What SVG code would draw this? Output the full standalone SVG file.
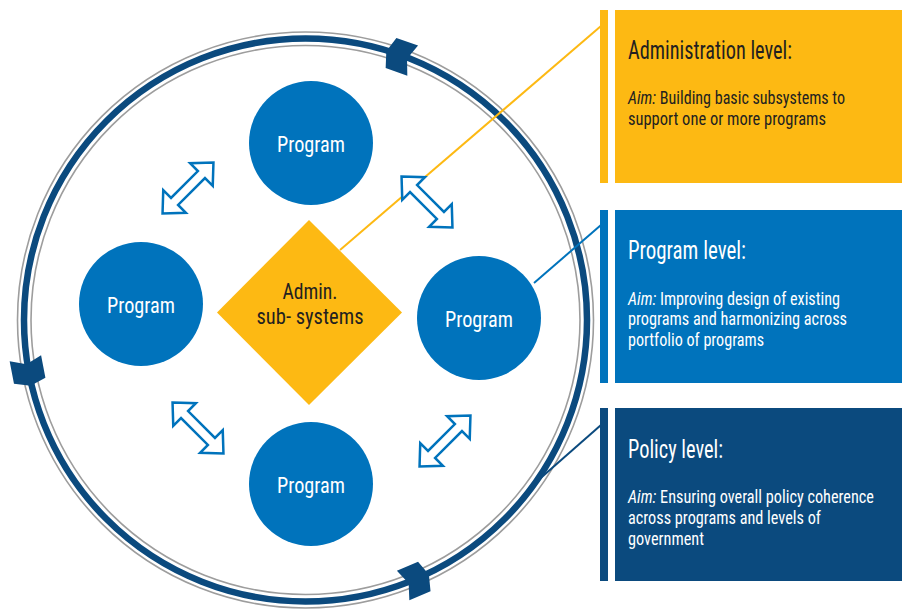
<svg xmlns="http://www.w3.org/2000/svg" xmlns:xlink="http://www.w3.org/1999/xlink" width="902" height="609" viewBox="0 0 902 609">
<style>
.gray{fill:none;stroke:#9d9d9d;stroke-width:1.6}
.band{fill:none;stroke:#0b4a7e;stroke-width:6.5}
.mk{fill:#0b4a7e}
.prog{fill:#0073bc}
.ptxt{font-family:"Liberation Sans Narrow","Roboto Condensed","DejaVu Sans Condensed","Liberation Sans",sans-serif;font-size:22px;fill:#ffffff;text-anchor:middle}
.dtxt{font-family:"Liberation Sans Narrow","Roboto Condensed","DejaVu Sans Condensed","Liberation Sans",sans-serif;font-size:22px;fill:#231f20;text-anchor:middle}
.ttl{font-family:"Liberation Sans Narrow","Roboto Condensed","DejaVu Sans Condensed","Liberation Sans",sans-serif;font-size:25px}
.body{font-family:"Liberation Sans Narrow","Roboto Condensed","DejaVu Sans Condensed","Liberation Sans",sans-serif;font-size:17.5px}
.aim{font-style:italic}
.dk{fill:#231f20}
.wt{fill:#ffffff}
.dbl{fill:#ffffff;stroke:#0073bc;stroke-width:2.5;stroke-linejoin:miter}
</style>
<defs>
<path id="darrow" d="M-36,0 L-19,-16 L-19,-5 L19,-5 L19,-16 L36,0 L19,16 L19,5 L-19,5 L-19,16 Z"/>
<path id="chev" d="M-14,-16 L9,-16 L14,0 L9,16 L-14,16 L-8,0 Z"/>
</defs>

<g id="ring">
<circle class="gray" cx="305.5" cy="320" r="288"/>
<circle class="gray" cx="305.5" cy="320" r="274.5"/>
<circle class="band" cx="305.5" cy="320" r="281.5"/>
<use xlink:href="#chev" class="mk" transform="translate(399.5,56) rotate(-160.4)"/>
<use xlink:href="#chev" class="mk" transform="translate(28,372) rotate(79.2)"/>
<use xlink:href="#chev" class="mk" transform="translate(416,580) rotate(-23)"/>
</g>

<g id="connectors">
<line x1="340" y1="250" x2="601" y2="26" stroke="#fdb913" stroke-width="2"/>
<line x1="534" y1="283" x2="601" y2="225" stroke="#0073bc" stroke-width="2"/>
<line x1="535" y1="483" x2="601" y2="425" stroke="#0b4a7e" stroke-width="2"/>
<use xlink:href="#darrow" class="dbl" transform="translate(188,188) rotate(-45)"/>
<use xlink:href="#darrow" class="dbl" transform="translate(427,202) rotate(45)"/>
<use xlink:href="#darrow" class="dbl" transform="translate(198,428) rotate(45)"/>
<use xlink:href="#darrow" class="dbl" transform="translate(445,441) rotate(-45)"/>
</g>

<g id="admin">
<polygon points="309,220 402,312.5 309,405 217,312.5" fill="#fdb913"/>
<text class="dtxt" x="310" y="299" textLength="55" lengthAdjust="spacingAndGlyphs">Admin.</text>
<text class="dtxt" x="310" y="324" textLength="107" lengthAdjust="spacingAndGlyphs">sub- systems</text>
</g>

<g id="program-top">
<circle class="prog" cx="311" cy="143" r="62"/>
<text class="ptxt" x="311" y="152" textLength="68" lengthAdjust="spacingAndGlyphs">Program</text>
</g>
<g id="program-left">
<circle class="prog" cx="141" cy="304" r="62"/>
<text class="ptxt" x="141" y="313" textLength="68" lengthAdjust="spacingAndGlyphs">Program</text>
</g>
<g id="program-right">
<circle class="prog" cx="479" cy="318" r="62"/>
<text class="ptxt" x="479" y="327" textLength="68" lengthAdjust="spacingAndGlyphs">Program</text>
</g>
<g id="program-bottom">
<circle class="prog" cx="311" cy="484" r="62"/>
<text class="ptxt" x="311" y="493" textLength="68" lengthAdjust="spacingAndGlyphs">Program</text>
</g>

<g id="panel-admin">
<rect x="600" y="10" width="8" height="173" fill="#fdb913"/>
<rect x="615" y="10" width="287" height="173" fill="#fdb913"/>
<text class="ttl dk" x="628" y="59" textLength="164" lengthAdjust="spacingAndGlyphs">Administration level:</text>
<text class="body dk" x="628" y="104" textLength="217" lengthAdjust="spacingAndGlyphs"><tspan class="aim">Aim:</tspan> Building basic subsystems to</text>
<text class="body dk" x="628" y="125" textLength="198" lengthAdjust="spacingAndGlyphs">support one or more programs</text>
</g>

<g id="panel-program">
<rect x="600" y="210" width="8" height="173" fill="#0073bc"/>
<rect x="615" y="210" width="287" height="173" fill="#0073bc"/>
<text class="ttl wt" x="628" y="259" textLength="118" lengthAdjust="spacingAndGlyphs">Program level:</text>
<text class="body wt" x="628" y="305" textLength="212" lengthAdjust="spacingAndGlyphs"><tspan class="aim">Aim:</tspan> Improving design of existing</text>
<text class="body wt" x="628" y="325" textLength="219" lengthAdjust="spacingAndGlyphs">programs and harmonizing across</text>
<text class="body wt" x="628" y="346" textLength="136" lengthAdjust="spacingAndGlyphs">portfolio of programs</text>
</g>

<g id="panel-policy">
<rect x="600" y="408" width="8" height="173" fill="#0b4a7e"/>
<rect x="615" y="408" width="287" height="173" fill="#0b4a7e"/>
<text class="ttl wt" x="628" y="458" textLength="95" lengthAdjust="spacingAndGlyphs">Policy level:</text>
<text class="body wt" x="628" y="503" textLength="246" lengthAdjust="spacingAndGlyphs"><tspan class="aim">Aim:</tspan> Ensuring overall policy coherence</text>
<text class="body wt" x="628" y="524" textLength="193" lengthAdjust="spacingAndGlyphs">across programs and levels of</text>
<text class="body wt" x="628" y="545" textLength="76" lengthAdjust="spacingAndGlyphs">government</text>
</g>
</svg>
